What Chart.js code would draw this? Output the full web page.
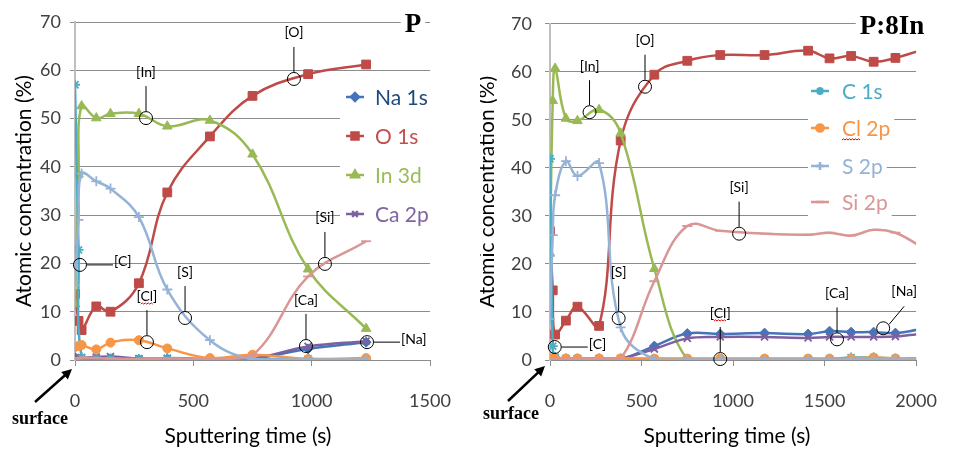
<!DOCTYPE html>
<html>
<head>
<meta charset="utf-8">
<script src="https://cdn.jsdelivr.net/npm/chart.js@4.4.0/dist/chart.umd.min.js"></script>
<style>
  body { margin: 0; background: #fff; width: 961px; height: 452px; overflow: hidden; position: relative; }
  canvas { position: absolute; top: 0; }
  #chartP { left: 0; }
  #chartIn { left: 480px; }
</style>
</head>
<body>
<canvas id="chartP" width="480" height="452"></canvas>
<canvas id="chartIn" width="481" height="452"></canvas>
<script>
// series names, same order in both panels
var names = ['Na 1s', 'O 1s', 'In 3d', 'Ca 2p', 'C 1s', 'Cl 2p', 'S 2p', 'Si 2p'];

// panel P
var timeP = [0, 15, 28, 90, 150, 270, 390, 570, 750, 985, 1230];
var naP = [0.2, 0.2, 0.2, 0.2, 0.2, 0.1, 0.2, 0.1, 0.3, 2.3, 3.7];
var oP  = [13.7, 8.1, 6.2, 11.1, 10.0, 15.9, 34.7, 46.3, 54.7, 59.2, 61.2];
var inP = [11.6, 38.5, 52.6, 50.1, 51.0, 51.0, 48.4, 49.6, 42.6, 18.8, 6.5];
var caP = [0.4, 0.7, 0.5, 0.6, 0.7, 0.3, 0.3, 0.2, 0.3, 2.8, 3.9];
var cP  = [57.0, 22.8, 0.5, 0.3, 0.3, 0.2, 0.4, 0.2, 0.2, 0.2, 0.2];
var clP = [2.7, 2.9, 3.1, 2.2, 3.6, 4.1, 2.4, 0.4, 1.1, 0.2, 0.4];
var sP  = [15.5, 29.0, 38.6, 37.0, 35.5, 29.6, 14.6, 4.1, 0.2, 0.1, 0.1];
var siP = [0.3, 0.3, 0.5, 0.4, 0.3, 0.2, 0.3, 0.2, 1.0, 17.3, 24.6];

// panel P:8In (last point lies just past the axis end)
var timeIn = [0, 15, 28, 87, 150, 268, 386, 570, 750, 930, 1172, 1410, 1527, 1645, 1768, 1887, 2010];
var naIn = [0.2, 0.2, 0.2, 0.2, 0.2, 0.2, 0.2, 2.9, 5.5, 5.4, 5.6, 5.4, 6.0, 5.8, 5.8, 5.6, 6.3];
var oIn  = [26.8, 14.5, 5.3, 8.2, 11.1, 7.1, 45.7, 59.4, 62.3, 63.5, 63.5, 64.4, 62.8, 63.3, 62.1, 62.9, 64.3];
var inIn = [22.2, 54.0, 60.7, 50.3, 49.8, 52.1, 47.2, 19.0, 0.1, 0.1, 0.1, 0.1, 0.1, 0.1, 0.1, 0.1, 0.1];
var caIn = [0.3, 0.3, 0.3, 0.3, 0.3, 0.3, 0.3, 2.3, 4.5, 4.8, 4.8, 4.6, 4.8, 4.8, 4.8, 4.9, 5.4];
var cIn  = [41.9, 2.9, 0.6, 0.3, 0.3, 0.3, 0.3, 0.2, 0.2, 0.2, 0.2, 0.2, 0.2, 0.5, 0.5, 0.3, 0.3];
var clIn = [0.3, 0.3, 0.3, 0.3, 0.3, 0.3, 0.3, 0.3, 0.3, 0.3, 0.3, 0.3, 0.3, 0.3, 0.5, 0.3, 0.3];
var sIn  = [8.5, 26.0, 34.3, 41.4, 38.3, 41.0, 6.8, 0.1, 0.1, 0.1, 0.1, 0.1, 0.1, 0.1, 0.1, 0.1, 0.1];
var siIn = [0.2, 0.2, 0.2, 0.2, 0.2, 0.2, 0.2, 16.4, 27.9, 26.9, 26.3, 26.1, 26.5, 25.9, 27.1, 26.5, 24.0];

var xTicksP = [0, 500, 1000, 1500];
var xTicksIn = [0, 500, 1000, 1500, 2000];

// styles
var lineColors = ['#4674B8', '#BE4B48', '#98B954', '#7D60A0', '#4BACC6', '#F79646', '#95B3D7', '#D99694'];
var textColors = ['#1F497D', '#C0504D', '#9BBB59', '#8064A2', '#4BACC6', '#F79646', '#95B3D7', '#D99694'];
var markers = ['rectRot', 'rect', 'triangle', 'crossRot', 'star', 'circle', 'cross', 'line'];
var markerSizes = [5, 6.2, 5.5, 5, 5, 4.5, 5, 5];
var FONT = 'Lato, "Noto Sans", sans-serif';

function toPoints(times, vals) {
    return times.map(function (t, i) { return { x: t, y: vals[i] }; });
}

function isOpen(style) {
    return style === 'crossRot' || style === 'star' || style === 'cross' || style === 'line';
}

function makeDatasets(times, cols, xmax) {
    return cols.map(function (vals, i) {
        return {
            label: names[i],
            data: toPoints(times, vals),
            borderColor: lineColors[i],
            backgroundColor: lineColors[i],
            borderWidth: 2.5,
            tension: 0.4,
            pointStyle: markers[i],
            pointRadius: function (c) { return c.raw && c.raw.x > xmax ? 0 : markerSizes[i]; },
            pointBorderWidth: isOpen(markers[i]) ? 1.8 : 1,
            order: cols.length - i
        };
    });
}

function drawMarker(ctx, style, r, x, y, color, bw) {
    ctx.save();
    ctx.fillStyle = color;
    ctx.strokeStyle = color;
    Chart.helpers.drawPoint(ctx, { pointStyle: style, radius: r, rotation: 0, borderWidth: bw }, x, y);
    ctx.restore();
}

function wavy(ctx, x1, x2, y) {
    ctx.save();
    ctx.strokeStyle = '#e00000';
    ctx.lineWidth = 1;
    ctx.beginPath();
    var up = true;
    ctx.moveTo(x1, y);
    for (var x = x1 + 1.5; x <= x2; x += 1.5) {
        ctx.lineTo(x, up ? y - 1.2 : y);
        up = !up;
    }
    ctx.stroke();
    ctx.restore();
}

var decor = {
    id: 'decor',
    afterDatasetsDraw: function (chart, args, o) {
        var ctx = chart.ctx;
        var xs = chart.scales.x, ys = chart.scales.y, area = chart.chartArea;
        ctx.save();

        // panel title
        ctx.font = 'bold 27px "Liberation Serif", "Times New Roman", serif';
        var tw = ctx.measureText(o.title).width;
        ctx.fillStyle = '#fff';
        ctx.fillRect(o.titleX - tw / 2 - 4, area.top - 4, tw + 8, 30);
        ctx.fillStyle = '#000';
        ctx.textAlign = 'center';
        ctx.textBaseline = 'middle';
        ctx.fillText(o.title, o.titleX, area.top + 3);

        // legend (part of the series shown in each panel)
        var lg = o.legend;
        ctx.font = '21px ' + FONT;
        ctx.textAlign = 'left';
        lg.items.forEach(function (idx, k) {
            var y = lg.rows[k];
            var w = ctx.measureText(names[idx]).width;
            var right = lg.boxRight || (lg.textX + w + 4);
            ctx.fillStyle = '#fff';
            ctx.fillRect(lg.boxLeft, y - lg.rowH / 2, right - lg.boxLeft, lg.rowH);
            ctx.strokeStyle = lineColors[idx];
            ctx.lineWidth = 2.5;
            ctx.beginPath();
            ctx.moveTo(lg.sampleX - 9, y);
            ctx.lineTo(lg.sampleX + 9, y);
            ctx.stroke();
            drawMarker(ctx, markers[idx], markerSizes[idx] * 0.8, lg.sampleX, y, lineColors[idx], isOpen(markers[idx]) ? 1.6 : 1);
            ctx.fillStyle = textColors[idx];
            ctx.fillText(names[idx], lg.textX, y + 1);
            if (names[idx] === 'Cl 2p') {
                wavy(ctx, lg.textX, lg.textX + ctx.measureText('Cl').width, y + 12);
            }
        });

        // circled call-outs
        ctx.font = '14px ' + FONT;
        ctx.lineWidth = 1;
        ctx.strokeStyle = '#000';
        o.notes.forEach(function (n) {
            var cx = xs.getPixelForValue(n.x), cy = ys.getPixelForValue(n.y);
            ctx.beginPath();
            ctx.arc(cx, cy, 6.5, 0, Math.PI * 2);
            ctx.stroke();
            ctx.beginPath();
            var lx, ly, align = 'center';
            if (n.dir === 'up') {
                ctx.moveTo(cx, cy - 7); ctx.lineTo(cx, cy - 32);
                lx = cx; ly = cy - 46;
            } else if (n.dir === 'right') {
                ctx.moveTo(cx + 7, cy); ctx.lineTo(cx + 33, cy);
                lx = cx + 34; ly = cy - 3; align = 'left';
            } else {
                ctx.moveTo(cx + 6, cy - 4); ctx.lineTo(cx + 21, cy - 22);
                lx = cx + 21; ly = cy - 37;
            }
            ctx.stroke();
            ctx.fillStyle = '#000';
            ctx.textAlign = align;
            ctx.textBaseline = 'middle';
            ctx.fillText(n.t, lx, ly);
            if (n.t === '[Cl]') {
                var w = ctx.measureText(n.t).width, wb = ctx.measureText('[').width;
                var x0 = align === 'center' ? lx - w / 2 : lx;
                wavy(ctx, x0 + wb, x0 + w - wb, ly + 8);
            }
        });

        // axis titles
        ctx.fillStyle = '#000';
        ctx.font = '21px ' + FONT;
        ctx.textAlign = 'center';
        ctx.textBaseline = 'middle';
        ctx.fillText('Sputtering time (s)', o.xTitleX, 436);
        ctx.save();
        ctx.translate(o.yTitleX, (area.top + area.bottom) / 2);
        ctx.rotate(-Math.PI / 2);
        ctx.fillText('Atomic concentration (%)', 0, 0);
        ctx.restore();

        // "surface" arrow pointing at the origin
        var s = o.surface;
        var tipX = xs.getPixelForValue(0) + s.dx, tipY = ys.getPixelForValue(0) + s.dy;
        var ang = Math.atan2(tipY - s.tailY, tipX - s.tailX);
        ctx.strokeStyle = '#000';
        ctx.lineWidth = 2.5;
        ctx.beginPath();
        ctx.moveTo(s.tailX, s.tailY);
        ctx.lineTo(tipX - 6 * Math.cos(ang), tipY - 6 * Math.sin(ang));
        ctx.stroke();
        ctx.beginPath();
        ctx.moveTo(tipX, tipY);
        ctx.lineTo(tipX - 10 * Math.cos(ang) + 5 * Math.sin(ang), tipY - 10 * Math.sin(ang) - 5 * Math.cos(ang));
        ctx.lineTo(tipX - 10 * Math.cos(ang) - 5 * Math.sin(ang), tipY - 10 * Math.sin(ang) + 5 * Math.cos(ang));
        ctx.closePath();
        ctx.fillStyle = '#000';
        ctx.fill();
        ctx.font = 'bold 18px "Liberation Serif", "Times New Roman", serif';
        ctx.textAlign = 'center';
        ctx.fillText('surface', s.textX, s.textY);

        ctx.restore();
    }
};

function makeChart(id, times, cols, cfg) {
    return new Chart(document.getElementById(id), {
        type: 'line',
        data: { datasets: makeDatasets(times, cols, cfg.xTicks[cfg.xTicks.length - 1]) },
        options: {
            responsive: false,
            animation: false,
            devicePixelRatio: 1,
            layout: { padding: { top: 22, right: cfg.padRight, left: 0, bottom: 0 } },
            plugins: {
                legend: { display: false },
                tooltip: { enabled: false },
                decor: cfg.decor
            },
            scales: {
                x: {
                    type: 'linear',
                    min: cfg.xTicks[0],
                    max: cfg.xTicks[cfg.xTicks.length - 1],
                    afterBuildTicks: function (s) { s.ticks = cfg.xTicks.map(function (v) { return { value: v }; }); },
                    ticks: {
                        font: { family: 'Lato', size: 18 }, color: '#404040', padding: 24, maxRotation: 0, autoSkip: false,
                        callback: function (v) { return String(v); }
                    },
                    grid: { drawOnChartArea: false, drawTicks: true, tickLength: 6, color: '#8c8c8c' },
                    border: { color: '#8c8c8c', width: 1 },
                    afterFit: function (s) { s.height = 92; }
                },
                y: {
                    min: 0,
                    max: 70,
                    ticks: { stepSize: 10, font: { family: 'Lato', size: 18 }, color: '#404040', padding: cfg.yPad },
                    grid: { color: '#8c8c8c', tickLength: 5 },
                    border: { color: '#bfbfbf', width: 2 },
                    afterFit: function (s) { s.width = cfg.yWidth; }
                }
            }
        },
        plugins: [decor]
    });
}

makeChart('chartP', timeP, [naP, oP, inP, caP, cP, clP, sP, siP], {
    xTicks: xTicksP, padRight: 50, yWidth: 75, yPad: 9,
    decor: {
        title: 'P', titleX: 413, xTitleX: 248, yTitleX: 24,
        legend: { items: [0, 1, 2, 3], sampleX: 355, textX: 375, rows: [97, 136, 175, 214], boxLeft: 340, boxRight: 430, rowH: 39 },
        notes: [
            { t: '[C]', x: 21, y: 19.7, dir: 'right' },
            { t: '[In]', x: 300, y: 50.1, dir: 'up' },
            { t: '[O]', x: 925, y: 58.2, dir: 'up' },
            { t: '[Cl]', x: 304, y: 3.7, dir: 'up' },
            { t: '[S]', x: 465, y: 8.7, dir: 'up' },
            { t: '[Si]', x: 1056, y: 19.9, dir: 'up' },
            { t: '[Ca]', x: 976, y: 2.9, dir: 'up' },
            { t: '[Na]', x: 1234, y: 3.7, dir: 'right' }
        ],
        surface: { dx: -3, dy: 9, tailX: 35, tailY: 402, textX: 40, textY: 419 }
    }
});

makeChart('chartIn', timeIn, [naIn, oIn, inIn, caIn, cIn, clIn, sIn, siIn], {
    xTicks: xTicksIn, padRight: 22, yWidth: 70, yPad: 13,
    decor: {
        title: 'P:8In', titleX: 412, xTitleX: 247, yTitleX: 7,
        legend: { items: [4, 5, 6, 7], sampleX: 340, textX: 362, rows: [91, 128, 166, 202], boxLeft: 328, boxRight: 0, rowH: 30 },
        notes: [
            { t: '[In]', x: 216, y: 51.6, dir: 'up' },
            { t: '[O]', x: 519, y: 56.9, dir: 'up' },
            { t: '[Si]', x: 1033, y: 26.3, dir: 'up' },
            { t: '[S]', x: 375, y: 8.7, dir: 'up' },
            { t: '[C]', x: 26, y: 2.7, dir: 'right' },
            { t: '[Cl]', x: 930, y: 0.2, dir: 'up' },
            { t: '[Ca]', x: 1568, y: 4.3, dir: 'up' },
            { t: '[Na]', x: 1820, y: 6.6, dir: 'diag' }
        ],
        surface: { dx: -5, dy: 6, tailX: 28, tailY: 401, textX: 31, textY: 414 }
    }
});
</script>
</body>
</html>
